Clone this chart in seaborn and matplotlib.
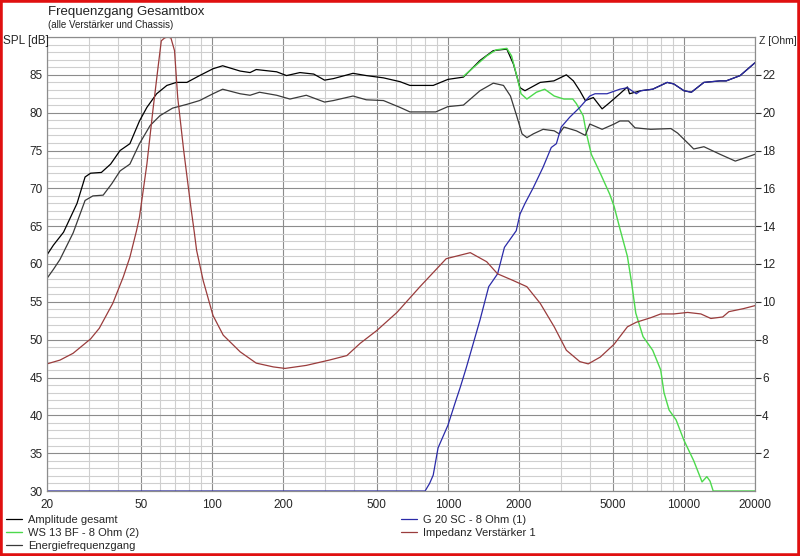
import numpy as np
import pandas as pd
import matplotlib
matplotlib.use("Agg")
import matplotlib.pyplot as plt
from matplotlib.patches import Rectangle
from matplotlib.ticker import FixedLocator, NullFormatter
import seaborn as sns

# Amplitude gesamt (dB)
amp_freq = [20, 21.3, 23.5, 26.8, 29, 30.6, 34, 37.2, 40.8, 44.9, 49.3, 53, 58.3, 64.4, 70.7,
            78.3, 88.6, 101, 111, 131.6, 145, 154, 188, 207, 236, 270, 300, 327, 396, 451,
            533, 626, 690, 866, 1000, 1163, 1367, 1556, 1776, 1895, 2020, 2120, 2460, 2810,
            3175, 3400, 3620, 3820, 4130, 4500, 4790, 5350, 5760, 5880, 6560, 7370, 8490,
            9050, 10000, 10750, 12150, 14220, 15100, 17300, 20000]
amp_spl = [61.2, 62.5, 64.2, 68, 71.5, 72, 72.1, 73.2, 75, 75.9, 78.9, 80.7, 82.5, 83.6, 84,
           84, 84.9, 85.8, 86.2, 85.5, 85.3, 85.7, 85.4, 84.9, 85.3, 85.1, 84.3, 84.5, 85.2, 84.9,
           84.6, 84.1, 83.6, 83.6, 84.4, 84.7, 86.9, 88.2, 88.4, 86.4, 83.3, 82.9, 84, 84.2,
           85, 84.2, 82.9, 81.6, 82, 80.5, 81.2, 82.5, 83.4, 82.5, 82.9, 83.1, 84,
           83.8, 82.9, 82.7, 84, 84.2, 84.2, 84.9, 86.6]

# Energiefrequenzgang (dB)
energy_freq = [20, 21.3, 22.7, 25.8, 29, 31.3, 34.6, 37.6, 40.8, 44.9, 49.3, 54.7, 60.2, 68.1,
               78.3, 88.6, 101, 111, 131.6, 145, 159, 188, 214, 251, 300, 327, 396, 451, 533,
               626, 690, 888, 1000, 1163, 1367, 1556, 1719, 1840, 1963, 2060, 2160, 2300, 2530,
               2820, 2960, 3100, 3500, 3820, 3990, 4500, 5060, 5350, 5820, 6200, 7230, 8800,
               9400, 10370, 11000, 12150, 14220, 16500, 18390, 20000]
energy_spl = [58.1, 59.3, 60.6, 64.1, 68.4, 69, 69.1, 70.6, 72.3, 73.2, 75.9, 78.3, 79.6, 80.6,
              81.1, 81.6, 82.5, 83.1, 82.5, 82.3, 82.7, 82.3, 81.8, 82.3, 81.4, 81.6, 82.2, 81.7, 81.6,
              80.7, 80.1, 80.1, 80.8, 81, 82.9, 83.9, 83.6, 82.2, 79.4, 77.2, 76.7, 77.2, 77.8,
              77.6, 77.2, 78.1, 77.6, 77, 78.5, 77.8, 78.5, 78.9, 78.9, 78, 77.8, 77.9,
              77.3, 76, 75.2, 75.5, 74.5, 73.6, 74.1, 74.5]

# G 20 SC - 8 Ohm (1) (dB)
g20_freq = [20, 800, 836, 866, 908, 1000, 1071, 1130, 1196, 1367, 1488, 1623, 1735, 1947, 2020,
            2120, 2300, 2530, 2740, 2880, 3020, 3280, 3620, 3990, 4200, 4720, 5350, 5760, 6280,
            6560, 7370, 8490, 9050, 10000, 10750, 12150, 14220, 15100, 17300, 20000]
g20_spl = [30, 30, 31, 32.1, 35.7, 38.7, 41.6, 43.8, 46.3, 52.6, 57, 58.7, 62.2, 64.4, 66.6,
           68, 70.1, 72.8, 75.4, 75.9, 78.1, 79.4, 80.7, 82.2, 82.5, 82.5, 83.1, 83.3, 82.5,
           82.9, 83.1, 84, 83.8, 82.9, 82.7, 84, 84.2, 84.2, 84.9, 86.6]

# WS 13 BF - 8 Ohm (2) (dB)
ws13_freq = [1163, 1330, 1460, 1600, 1776, 1860, 1963, 2040, 2160, 2370, 2570, 2820, 3100, 3380,
             3500, 3740, 3865, 4050, 4420, 4850, 5060, 5350, 5760, 6000, 6250, 6710, 7370, 7970,
             8230, 8650, 9260, 10000, 11000, 11930, 12500, 12900, 13300, 20000]
ws13_spl = [84.8, 86.4, 87.5, 88.3, 88.5, 87.5, 84.7, 82.5, 81.8, 82.7, 83.1, 82.2, 81.8, 81.8,
            81.2, 79.6, 77.2, 74.5, 72, 69.2, 67.6, 64.7, 61, 57.5, 53.5, 50.4, 48.6, 46,
            43, 40.7, 39.4, 36.7, 34, 31.2, 31.9, 31.3, 30, 30]

# Impedanz Verstärker 1 (Ohm)
imp_freq = [20, 22.7, 25.8, 30.6, 33.3, 38, 42.1, 44.9, 47.9, 49.3, 53, 56.2, 59.1, 61, 63, 65,
            67, 69.4, 71.6, 75.9, 81.4, 84, 86.1, 91.8, 101, 111.6, 131.6, 154, 182, 204, 251,
            314, 373, 424, 499, 608, 761, 983, 1243, 1459, 1623, 1895, 2160, 2460, 2820, 3175,
            3620, 3930, 4420, 5060, 5760, 6280, 7230, 7970, 9050, 10370, 11800, 13000, 14600,
            15500, 17860, 20000]
imp_ohm = [6.72, 6.92, 7.28, 8.04, 8.6, 9.92, 11.32, 12.36, 13.76, 14.48, 17.28, 20.12, 22.4,
           23.8, 23.95, 24.0, 23.95, 23.28, 20.8, 18, 15, 13.76, 12.72, 11.12, 9.28, 8.24, 7.36,
           6.76, 6.56, 6.48, 6.64, 6.92, 7.16, 7.8, 8.48, 9.44, 10.8, 12.28, 12.6, 12.12, 11.48,
           11.12, 10.8, 9.92, 8.68, 7.44, 6.84, 6.72, 7.08, 7.76, 8.68, 8.92, 9.16, 9.36, 9.36,
           9.44, 9.36, 9.12, 9.2, 9.48, 9.64, 9.8]

x_labels = [20, 50, 100, 200, 500, 1000, 2000, 5000, 10000, 20000]
spl_labels = [30, 35, 40, 45, 50, 55, 60, 65, 70, 75, 80, 85]
ohm_labels = [2, 4, 6, 8, 10, 12, 14, 16, 18, 20, 22]

sns.set_style("white")
plt.rcParams['font.family'] = ['Liberation Sans', 'DejaVu Sans']

fig = plt.figure(figsize=(8, 5.56), dpi=100)
ax = fig.add_axes([47 / 800, 1 - 491 / 556, 708 / 800, 454 / 556])
ax2 = ax.twinx()

ax.set_xscale('log')
ax.set_xlim(20, 20000)
ax.set_ylim(30, 90)
ax2.set_ylim(0, 24)

# grid
minor_x = [m * d for d in [10, 100, 1000, 10000] for m in range(1, 10)]
minor_x = [v for v in minor_x if 20 <= v <= 20000 and v not in x_labels]
ax.xaxis.set_major_locator(FixedLocator(x_labels))
ax.xaxis.set_minor_locator(FixedLocator(minor_x))
ax.xaxis.set_minor_formatter(NullFormatter())
ax.set_xticklabels([str(v) for v in x_labels])
ax.yaxis.set_major_locator(FixedLocator(spl_labels + [90]))
ax.yaxis.set_minor_locator(FixedLocator([v for v in range(31, 90) if v % 5]))
ax.set_yticklabels([str(v) for v in spl_labels] + [''])
ax.grid(which='major', color='#8c8c8c', linewidth=0.8)
ax.grid(which='minor', color='#cfcfcf', linewidth=0.8)
ax.set_axisbelow(True)

ax2.yaxis.set_major_locator(FixedLocator(ohm_labels))
ax2.set_yticklabels([str(v) for v in ohm_labels])
ax2.grid(False)

ax.tick_params(axis='both', which='both', length=0, labelsize=8.5, pad=3)
ax.tick_params(axis='x', which='major', length=3, color='#555555')
ax2.tick_params(axis='y', length=4, width=0.8, color='#333333', labelsize=8.5, pad=1)

for a in (ax, ax2):
    for s in a.spines.values():
        s.set_color('#8c8c8c')
        s.set_linewidth(0.8)

# curves
sns.lineplot(x=amp_freq, y=amp_spl, ax=ax, color='#000000', linewidth=0.9,
             label='Amplitude gesamt', legend=False)
sns.lineplot(x=ws13_freq, y=ws13_spl, ax=ax, color='#4cd94c', linewidth=1.0,
             label='WS 13 BF - 8 Ohm (2)', legend=False)
sns.lineplot(x=energy_freq, y=energy_spl, ax=ax, color='#3a3a3a', linewidth=0.9,
             label='Energiefrequenzgang', legend=False)
sns.lineplot(x=g20_freq, y=g20_spl, ax=ax, color='#2a2aa8', linewidth=0.9,
             label='G 20 SC - 8 Ohm (1)', legend=False)
sns.lineplot(x=imp_freq, y=imp_ohm, ax=ax2, color='#9a3c3c', linewidth=0.9,
             label='Impedanz Verstärker 1', legend=False)
ax.set_xlabel('')
ax.set_ylabel('')
ax2.set_ylabel('')

# titles and axis captions
fig.text(48 / 800, 1 - 12 / 556, 'Frequenzgang Gesamtbox', fontsize=9.5, color='#222222',
         ha='left', va='center')
fig.text(48 / 800, 1 - 25 / 556, '(alle Verstärker und Chassis)', fontsize=7, color='#222222',
         ha='left', va='center')
fig.text(3 / 800, 1 - 41 / 556, 'SPL [dB]', fontsize=8.5, ha='left', va='center')
fig.text(759 / 800, 1 - 41 / 556, 'Z [Ohm]', fontsize=7.5, ha='left', va='center')

# legend
h1, l1 = ax.get_legend_handles_labels()
h2, l2 = ax2.get_legend_handles_labels()
hand = dict(zip(l1 + l2, h1 + h2))
left_names = ['Amplitude gesamt', 'WS 13 BF - 8 Ohm (2)', 'Energiefrequenzgang']
right_names = ['G 20 SC - 8 Ohm (1)', 'Impedanz Verstärker 1']
kw = dict(loc='upper left', frameon=False, fontsize=8, handlelength=1.4, handletextpad=0.6,
          labelspacing=0.25, borderpad=0, borderaxespad=0)
fig.legend([hand[n] for n in left_names], left_names,
           bbox_to_anchor=(6 / 800, 1 - 515 / 556), **kw)
fig.legend([hand[n] for n in right_names], right_names,
           bbox_to_anchor=(401 / 800, 1 - 515 / 556), **kw)

# red frame
fig.patches.append(Rectangle((0, 0), 1, 1, transform=fig.transFigure, fill=False,
                             edgecolor='#e01010', linewidth=4, zorder=10))

fig.savefig('out.png', dpi=100)
